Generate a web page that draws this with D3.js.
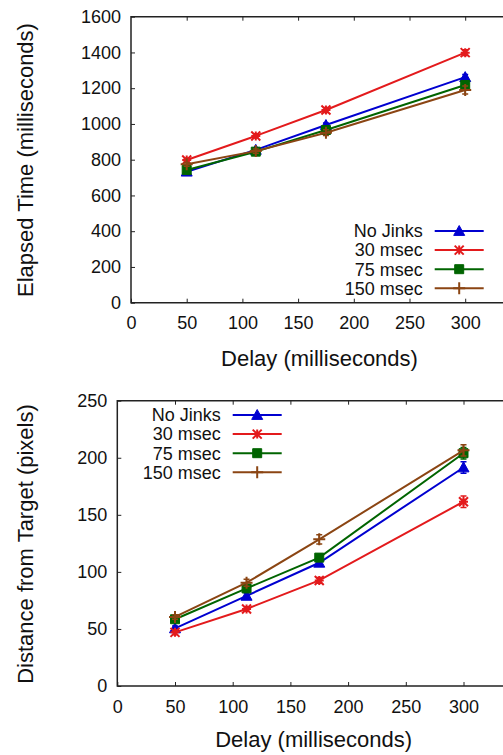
<!DOCTYPE html>
<html><head><meta charset="utf-8">
<script src="https://cdn.jsdelivr.net/npm/d3@7"></script>
<style>
body{margin:0;background:#fff;}
svg{display:block;font-family:"Liberation Sans",Arial,Helvetica,sans-serif;}
</style></head>
<body><svg id="c" width="503" height="755"></svg>
<script>
const delays = [50, 112, 175, 300];
const seriesNames = ["No Jinks", "30 msec", "75 msec", "150 msec"];
const seriesColors = ["#0000d0", "#e31a1c", "#006400", "#8b4513"];
const seriesMarkers = ["triangle", "star", "square", "plus"];
const xTicks = [0, 50, 100, 150, 200, 250, 300];

// Elapsed time (ms)
const elapsedNoJinks = [733, 855, 994, 1262];
const elapsed30 = [798, 933, 1078, 1399];
const elapsed75 = [742, 845, 966, 1218];
const elapsed150 = [774, 848, 951, 1190];
const elapsedErr = [[8, 10, 12, 14], [10, 12, 14, 16], [8, 10, 12, 14], [10, 12, 16, 22]];
const elapsedTicks = [0, 200, 400, 600, 800, 1000, 1200, 1400, 1600];

// Distance from target (pixels)
const distNoJinks = [50.5, 79, 108, 191.5];
const dist30 = [47, 67.5, 92.5, 161.5];
const dist75 = [58.5, 85.5, 112.5, 204];
const dist150 = [60.5, 90.5, 128.5, 206.5];
const distErr = [[2, 2.5, 3, 5], [2, 2, 2.5, 5], [2, 2.5, 3, 5], [2, 3, 4, 5]];
const distTicks = [0, 50, 100, 150, 200, 250];

const svg = d3.select("#c");

function markerPath(type, cx, cy) {
  if (type === "triangle") {
    const s = 5.5;
    return `M${cx},${cy - s}L${cx + s},${cy + s * 0.8}L${cx - s},${cy + s * 0.8}Z`;
  }
  if (type === "square") {
    const s = 4.5;
    return `M${cx - s},${cy - s}h${2 * s}v${2 * s}h${-2 * s}Z`;
  }
  if (type === "plus") {
    const s = 6;
    return `M${cx - s},${cy}h${2 * s}M${cx},${cy - s}v${2 * s}`;
  }
  // star
  const s = 4.5;
  return `M${cx - s},${cy}h${2 * s}M${cx},${cy - s}v${2 * s}M${cx - s},${cy - s}L${cx + s},${cy + s}M${cx - s},${cy + s}L${cx + s},${cy - s}`;
}

function drawMarker(g, type, cx, cy, color) {
  const filled = type === "triangle" || type === "square";
  g.append("path").attr("d", markerPath(type, cx, cy))
    .attr("fill", filled ? color : "none")
    .attr("stroke", color)
    .attr("stroke-width", filled ? 1 : 2);
}

function drawChart(cfg) {
  const g = svg.append("g");
  const x = d3.scaleLinear().domain([0, 350]).range([cfg.left, cfg.left + cfg.xPer50 * 7]);
  const y = d3.scaleLinear().domain([0, cfg.yMax]).range([cfg.bottom, cfg.top]);
  const right = x(350);

  // frame
  g.append("path")
    .attr("d", `M${right},${cfg.top}H${cfg.left}V${cfg.bottom}H${right}`)
    .attr("fill", "none").attr("stroke", "#222").attr("stroke-width", 1.5);

  // x ticks (inner, bottom & top) and labels
  const xAxisB = d3.axisBottom(x).tickValues(xTicks).tickSize(-4).tickFormat(d3.format("d")).tickPadding(14);
  const gxb = g.append("g").attr("transform", `translate(0,${cfg.bottom})`).call(xAxisB);
  gxb.select(".domain").remove();
  gxb.selectAll("line").attr("stroke", "#222");
  gxb.selectAll("text").attr("font-size", 18).attr("fill", "#111");
  const xAxisT = d3.axisTop(x).tickValues(xTicks.filter(d => d > 0)).tickSize(-4).tickFormat("");
  const gxt = g.append("g").attr("transform", `translate(0,${cfg.top})`).call(xAxisT);
  gxt.select(".domain").remove();
  gxt.selectAll("line").attr("stroke", "#222");

  // y ticks
  const yAxis = d3.axisLeft(y).tickValues(cfg.yTicks).tickSize(-4).tickPadding(10).tickFormat(d3.format("d"));
  const gy = g.append("g").attr("transform", `translate(${cfg.left},0)`).call(yAxis);
  gy.select(".domain").remove();
  gy.selectAll("line").attr("stroke", "#222");
  gy.selectAll("text").attr("font-size", 18).attr("fill", "#111");

  // axis titles
  g.append("text").attr("x", (cfg.left + 440) / 2 + cfg.xTitleShift).attr("y", cfg.xTitleY)
    .attr("text-anchor", "middle").attr("font-size", 22).attr("fill", "#111").text("Delay (milliseconds)");
  g.append("text").attr("transform", `translate(33,${cfg.yTitleCenter}) rotate(-90)`)
    .attr("text-anchor", "middle").attr("font-size", 22).attr("fill", "#111").text(cfg.yTitle);

  // series
  const line = d3.line().x((d, i) => x(delays[i])).y(d => y(d));
  cfg.series.forEach((vals, si) => {
    const color = seriesColors[si];
    const sg = g.append("g");
    sg.append("path").datum(vals).attr("d", line).attr("fill", "none")
      .attr("stroke", color).attr("stroke-width", 2);
    vals.forEach((v, i) => {
      const e = cfg.err[si][i];
      const cx = x(delays[i]);
      sg.append("path")
        .attr("d", `M${cx},${y(v - e)}V${y(v + e)}M${cx - 3},${y(v - e)}h6M${cx - 3},${y(v + e)}h6`)
        .attr("stroke", color).attr("stroke-width", 1.5).attr("fill", "none");
      drawMarker(sg, seriesMarkers[si], cx, y(v), color);
    });
  });

  // legend
  seriesNames.forEach((name, si) => {
    const ly = cfg.legY + si * 19.1;
    g.append("text").attr("x", cfg.legTextX).attr("y", ly).attr("dy", "0.35em")
      .attr("text-anchor", "end").attr("font-size", 18).attr("fill", "#111").text(name);
    g.append("line").attr("x1", cfg.legTextX + 12).attr("x2", cfg.legTextX + 61)
      .attr("y1", ly).attr("y2", ly).attr("stroke", seriesColors[si]).attr("stroke-width", 2);
    drawMarker(g, seriesMarkers[si], cfg.legTextX + 36.5, ly, seriesColors[si]);
  });
}

drawChart({
  left: 131, xPer50: 55.7, top: 16.7, bottom: 302.7, yMax: 1600, yTicks: elapsedTicks,
  series: [elapsedNoJinks, elapsed30, elapsed75, elapsed150], err: elapsedErr,
  xTitleY: 366, xTitleShift: 34, yTitleCenter: 160, yTitle: "Elapsed Time (milliseconds)",
  legY: 231, legTextX: 422.7
});
drawChart({
  left: 117.3, xPer50: 57.7, top: 400.7, bottom: 686, yMax: 250, yTicks: distTicks,
  series: [distNoJinks, dist30, dist75, dist150], err: distErr,
  xTitleY: 747, xTitleShift: 35, yTitleCenter: 544, yTitle: "Distance from Target (pixels)",
  legY: 415, legTextX: 220.7
});
</script></body></html>
